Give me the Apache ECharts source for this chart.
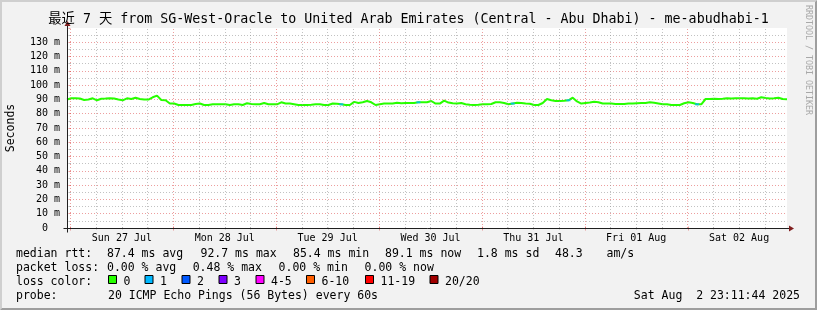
<!DOCTYPE html>
<html><head><meta charset="utf-8">
<script src="https://cdn.jsdelivr.net/npm/echarts@6/dist/echarts.min.js"></script>
<style>html,body{margin:0;padding:0;background:#f2f2f2;}#c{width:817px;height:310px;}</style>
</head><body><div id="c"></div>
<script>
// ---------------- data ----------------
const titleText = '最近 7 天 from SG-West-Oracle to United Arab Emirates (Central - Abu Dhabi) - me-abudhabi-1';
const dayLabels = ['Sun 27 Jul','Mon 28 Jul','Tue 29 Jul','Wed 30 Jul','Thu 31 Jul','Fri 01 Aug','Sat 02 Aug'];
// hours relative to Sun 27 Jul 00:00 (start = Sat 26 Jul 23:11:44)
const startHour = -0.8122;
const endHour = 167.1878;
const stepHours = 1;
const yMax = 140;
const yStep = 10;
// median RTT (ms), one value per hour
const medianMs = [
 89.9,90.8,90.8,90.6,89.6,89.9,90.8,89.4,90.5,90.6,90.8,90.6,89.9,89.4,90.8,90.3,91.2,90.3,89.9,89.9,
 91.5,92.7,89.6,89.4,87.1,87.1,86.1,86.1,86.1,86.1,86.8,87.1,86.1,86.1,86.6,86.6,86.6,86.6,86.1,86.6,
 86.6,86.1,87.3,86.8,86.6,86.6,87.5,86.6,86.6,86.6,88.0,87.1,87.1,86.6,86.1,86.1,86.1,86.3,86.6,86.6,
 86.1,86.1,87.1,87.0,86.6,86.1,86.1,88.3,87.5,88.0,88.9,88.0,86.1,86.6,87.1,87.1,87.1,87.6,87.3,87.5,
 87.5,87.5,88.0,88.0,88.0,88.9,87.1,87.1,89.2,87.8,87.3,87.1,87.5,86.6,86.3,86.1,86.3,86.6,86.6,86.8,
 88.0,88.0,87.5,86.6,87.1,87.6,87.5,87.1,87.0,86.1,86.1,87.5,90.3,89.4,88.9,88.9,89.0,89.4,91.2,88.6,
 87.1,87.5,87.8,88.3,88.0,87.1,87.1,87.1,86.8,86.8,86.8,87.1,87.1,87.3,87.5,87.5,88.0,87.6,87.1,86.6,
 86.6,86.1,86.1,86.1,87.3,88.0,87.5,86.6,86.6,90.3,90.3,90.5,90.3,90.5,90.8,90.6,90.8,90.8,90.8,90.6,
 90.8,90.5,91.5,91.0,90.6,90.8,91.2,90.3,90.1
];
// lost pings (of 20) per hour
const lossCount = [
 0,0,0,0,0,0,0,0,0,0,0,0,0,0,0,0,0,0,0,0,
 0,0,0,0,0,0,0,0,0,0,0,0,0,0,0,0,0,0,0,0,
 0,0,0,0,0,0,0,0,0,0,0,0,0,0,0,0,0,0,0,0,
 0,0,0,0,1,0,0,0,0,0,0,0,0,0,0,0,0,0,0,0,
 0,0,1,0,0,0,0,0,0,0,0,0,0,0,0,0,0,0,0,0,
 0,0,0,0,1,0,0,0,0,0,0,0,0,0,0,0,0,1,0,0,
 0,0,0,0,0,0,0,0,0,0,0,0,0,0,0,0,0,0,0,0,
 0,0,0,0,0,0,0,1,0,0,0,0,0,0,0,0,0,0,0,0,
 0,0,0,0,0,0,0,0,0
];
const lossLegend = ['0','1','2','3','4-5','6-10','11-19','20/20'];
const lossColors = ['#26ff00','#00b8ff','#0059ff','#7e00ff','#ff00ff','#ff5e00','#ff0000','#a10000'];
const rttStats = ['87.4','92.7','85.4','89.1'];
const rttSd = '1.8';
const rttAmS = '48.3';
const lossStats = ['0.00','0.48','0.00','0.00'];
const probeText = '20 ICMP Echo Pings (56 Bytes) every 60s';
const stampText = 'Sat Aug  2 23:11:44 2025';

// ---------------- chart ----------------
const MONO = '"DejaVu Sans Mono", "Noto Sans CJK SC", monospace';
const MAJOR = 'rgba(222,79,79,0.55)';
const MINOR = 'rgba(143,143,143,0.55)';
const AXIS = '#1f1f1f';
const ARROW = '#801f1f';

const medianData = medianMs.map((v,i)=>[startHour + i*stepHours, v]);
const lossData = medianMs.map((v,i)=> lossCount[i] > 0 ? [startHour + i*stepHours, v] : null).filter(Boolean);

const vMajor = [], vMinor = [];
for (let h = 0; h <= endHour; h += 6) {
  if (h < startHour) continue;
  if (h % 24 === 0) vMajor.push({xAxis: h}); else vMinor.push({xAxis: h});
}

const chart = echarts.init(document.getElementById('c'), null, {renderer:'canvas', width:817, height:310});
const option = {
  animation: false,
  backgroundColor: '#f2f2f2',
  grid: {left: 67, top: 28, width: 720, height: 200, show: true, backgroundColor: '#ffffff', borderWidth: 0},
  xAxis: {
    type: 'value', min: startHour, max: endHour,
    axisLine: {show: false}, axisTick: {show: false}, axisLabel: {show: false}, splitLine: {show: false}
  },
  yAxis: {
    type: 'value', min: 0, max: yMax, interval: yStep,
    axisLine: {show: false},
    axisTick: {show: true, length: 2, lineStyle: {color: MAJOR}},
    minorTick: {show: true, splitNumber: 2, length: 2, lineStyle: {color: MINOR}},
    axisLabel: {
      margin: 7, showMaxLabel: false, fontFamily: MONO, fontSize: 10, color: '#000',
      formatter: v => v === 0 ? '0  ' : (v + ' m')
    },
    splitLine: {show: true, showMinLine: false, showMaxLine: false, lineStyle: {color: MAJOR, width: 1, type: [1,2]}},
    minorSplitLine: {show: true, lineStyle: {color: MINOR, width: 1, type: [1,2]}}
  },
  series: [
    {
      type: 'line', data: medianData, z: 1, silent: true, showSymbol: false,
      lineStyle: {opacity: 0},
      markLine: {
        silent: true, symbol: 'none', label: {show: false}, animation: false,
        data: vMinor.map(d => Object.assign({}, d, {lineStyle: {color: MINOR, width: 1, type: [1,2]}}))
          .concat(vMajor.map(d => Object.assign({}, d, {lineStyle: {color: MAJOR, width: 1, type: [1,2]}})))
      }
    },
    {
      name: 'median', type: 'line', data: medianData, z: 3, showSymbol: false, silent: true,
      lineStyle: {color: lossColors[0], width: 2}
    },
    {
      name: 'loss1', type: 'scatter', data: lossData, z: 4, silent: true,
      symbol: 'rect', symbolSize: [4, 2], itemStyle: {color: lossColors[1]}
    }
  ]
};
chart.setOption(option);

// ---------------- decorations positioned through the chart's scales ----------------
const px = (x, y) => chart.convertToPixel({gridIndex: 0}, [x, y]);
const [x0, y0] = px(startHour, 0);
const [x1, y1] = px(endHour, yMax);
const X0 = Math.round(x0) + 0.5, Y0 = Math.round(y0) + 0.5, X1 = Math.round(x1), Y1 = Math.round(y1);

const g = [];
function txt(text, x, y, opts) {
  opts = opts || {};
  g.push({
    type: 'text', x: x, y: y, rotation: opts.rot || 0, silent: true, z: 100,
    style: {
      text: text, fill: opts.color || '#000',
      font: (opts.size || 11.5) + 'px ' + MONO,
      align: opts.align || 'left', verticalAlign: 'middle',
      textAlign: opts.align || 'left', textVerticalAlign: 'middle'
    }
  });
}
// 3D frame
g.push({type:'polygon', silent:true, z:50, shape:{points:[[0,310],[2,308],[2,2],[815,2],[817,0],[0,0]]}, style:{fill:'#cfcfcf'}});
g.push({type:'polygon', silent:true, z:50, shape:{points:[[2,308],[815,308],[815,2],[817,0],[817,310],[0,310]]}, style:{fill:'#9e9e9e'}});
// x ticks
for (let h = 0; h <= endHour; h += 6) {
  const [tx] = px(h, 0);
  const t = Math.round(tx) + 0.5;
  const major = h % 24 === 0;
  g.push({type:'line', silent:true, z:60, shape:{x1:t, y1:Y0-(major?2:1), x2:t, y2:Y0+(major?2:1)}, style:{stroke: major ? MAJOR : MINOR, lineWidth:1}});
}
// axes + arrows
g.push({type:'line', silent:true, z:61, shape:{x1:X0-4, y1:Y0, x2:X1+4, y2:Y0}, style:{stroke:AXIS, lineWidth:1}});
g.push({type:'line', silent:true, z:61, shape:{x1:X0, y1:Y0+4, x2:X0, y2:Y1-4}, style:{stroke:AXIS, lineWidth:1}});
g.push({type:'polygon', silent:true, z:62, shape:{points:[[X1+2,Y0-3],[X1+2,Y0+3],[X1+7,Y0]]}, style:{fill:ARROW}});
g.push({type:'polygon', silent:true, z:62, shape:{points:[[X0-3,Y1-2],[X0+3,Y1-2],[X0,Y1-7]]}, style:{fill:ARROW}});
// day labels at noon
dayLabels.forEach((d, k) => {
  const [lx] = px(24*k + 12, 0);
  txt(d, lx, Y0 + 9.5, {size: 10, align: 'center'});
});
// title, unit, watermark
txt(titleText, 408.5, 20, {size: 13.3, align: 'center'});
txt('Seconds', 11, 128, {rot: Math.PI/2, align: 'center'});
txt('RRDTOOL / TOBI OETIKER', 808, 60, {rot: -Math.PI/2, align: 'center', size: 8.3, color: '#a8a8a8'});
// legend
const L1 = 254, L2 = 268, L3 = 282, L4 = 296.5;
txt('median rtt:', 16, L1);
txt(rttStats[0] + ' ms avg', 107, L1);
txt(rttStats[1] + ' ms max', 200.5, L1);
txt(rttStats[2] + ' ms min', 293, L1);
txt(rttStats[3] + ' ms now', 385, L1);
txt(rttSd + ' ms sd', 477, L1);
txt(rttAmS, 555, L1);
txt('am/s', 606.5, L1);
txt('packet loss:', 16, L2);
txt(lossStats[0] + ' % avg', 107, L2);
txt(lossStats[1] + ' % max', 192.7, L2);
txt(lossStats[2] + ' % min', 278.6, L2);
txt(lossStats[3] + ' % now', 364.6, L2);
txt('loss color:', 16, L3);
const boxX = [108.5, 145, 182, 219, 256, 306.5, 365.5, 430];
lossLegend.forEach((lab, i) => {
  g.push({type:'rect', silent:true, z:70, shape:{x: boxX[i], y: 275.5, width: 8, height: 8}, style:{fill: lossColors[i], stroke:'#000', lineWidth:1}});
  txt(lab, boxX[i] + 15, L3);
});
txt('probe:', 16, L4);
txt(probeText, 108, L4);
txt(stampText, 800, L4, {align: 'right'});

chart.setOption({graphic: {elements: g}});
</script>
</body></html>
